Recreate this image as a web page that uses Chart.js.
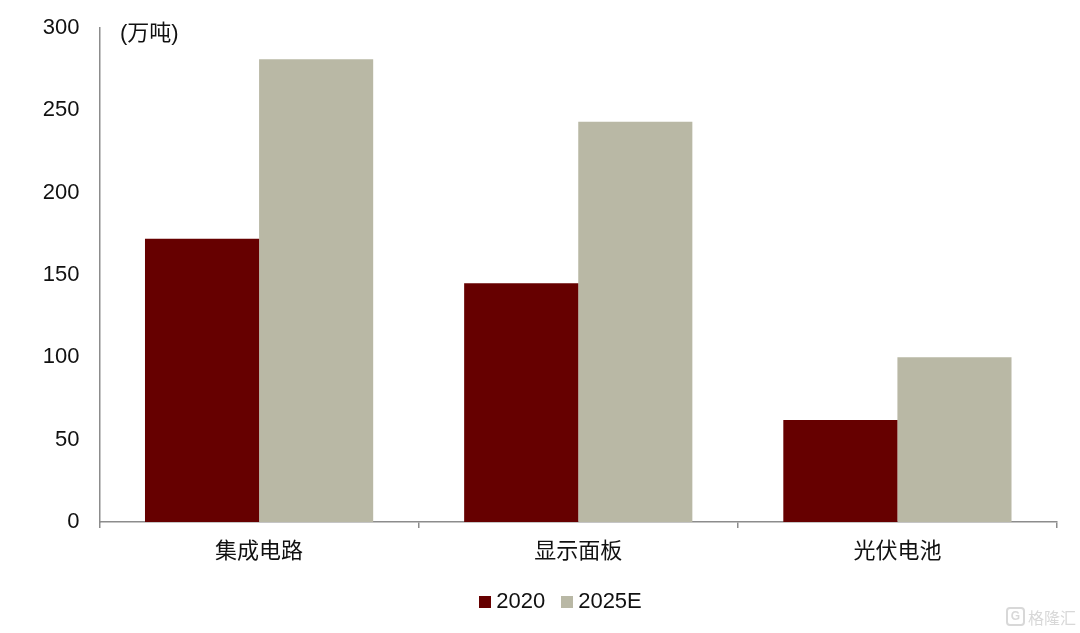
<!DOCTYPE html>
<html>
<head>
<meta charset="utf-8">
<script src="https://cdn.jsdelivr.net/npm/chart.js@4/dist/chart.umd.js"></script>
<style>
  body { margin: 0; background: #fff; }
  #wrap { position: relative; width: 1080px; height: 633px; }
  #mark { position: absolute; left: 1028px; top: 605px; font: 16px "Noto Sans CJK SC"; color: #d8d8d8; white-space: nowrap; }
  #logo { position: absolute; left: 1006px; top: 607px; width: 15px; height: 15px; border: 2px solid #d8d8d8; border-radius: 4px;
          font: bold 12px/15px "Liberation Sans"; color: #d8d8d8; text-align: center; }
</style>
</head>
<body>
<div id="wrap">
  <canvas id="chart" width="1080" height="633"></canvas>
  <div id="logo">G</div>
  <div id="mark">格隆汇</div>
</div>
<script>
// Data
const categories = ['集成电路', '显示面板', '光伏电池'];
const series2020 = [172, 145, 62];
const series2025E = [281, 243, 100];
const yTicks = [0, 50, 100, 150, 200, 250, 300];
const unitLabel = '(万吨)';

const COLOR_2020 = '#660000';
const COLOR_2025 = '#b9b8a5';
const LATIN = '"Liberation Sans", Arial, sans-serif';
const CJK = '"Liberation Sans", "Noto Sans CJK SC", sans-serif';
const AXIS_GREY = '#8c8c8c';

// Small square swatch, so the legend text can sit close to it
function swatch(color) {
    const c = document.createElement('canvas');
    c.width = 12;
    c.height = 12;
    const g = c.getContext('2d');
    g.fillStyle = color;
    g.fillRect(0, 0, 12, 12);
    return c;
}
const swatches = [swatch(COLOR_2020), swatch(COLOR_2025)];

// Unit label sits inside the plot, beside the top of the y axis
const unitPlugin = {
    id: 'unitLabel',
    beforeDraw(chart) {
        // legend is off centre in the original
        chart.legend.left = 69;
    },
    afterDraw(chart) {
        const ctx = chart.ctx;
        ctx.save();
        ctx.font = '22px ' + CJK;
        ctx.fillStyle = '#111';
        ctx.textBaseline = 'middle';
        ctx.fillText(unitLabel, 120, 34);
        ctx.restore();
    }
};

new Chart(document.getElementById('chart').getContext('2d'), {
    type: 'bar',
    data: {
        labels: categories,
        datasets: [
            { label: '2020', data: series2020, backgroundColor: COLOR_2020 },
            { label: '2025E', data: series2025E, backgroundColor: COLOR_2025 }
        ]
    },
    plugins: [unitPlugin],
    options: {
        responsive: false,
        animation: false,
        devicePixelRatio: 1,
        layout: { padding: { left: 0, right: 23, top: 28, bottom: 10 } },
        datasets: { bar: { categoryPercentage: 0.715, barPercentage: 1 } },
        scales: {
            x: {
                afterFit(scale) { scale.height = 48; },
                grid: { drawOnChartArea: false, color: AXIS_GREY, tickLength: 6, lineWidth: 1.5 },
                border: { color: AXIS_GREY, width: 1.5 },
                ticks: { color: '#111', font: { family: CJK, size: 22 }, padding: 11, maxRotation: 0 }
            },
            y: {
                min: 0,
                max: 300,
                afterFit(scale) {
                    scale.width = 99.5;
                    // top edge comes from layout padding only
                    scale.paddingTop = 0;
                    scale.paddingBottom = 0;
                },
                afterBuildTicks(scale) { scale.ticks = yTicks.map(v => ({ value: v })); },
                grid: { display: false },
                border: { color: AXIS_GREY, width: 1.5 },
                ticks: { color: '#111', font: { family: LATIN, size: 22 }, padding: 12 }
            }
        },
        plugins: {
            legend: {
                position: 'bottom',
                labels: {
                    color: '#111',
                    font: { family: LATIN, size: 22 },
                    usePointStyle: true,
                    pointStyleWidth: 1,
                    boxHeight: 12,
                    padding: 21,
                    generateLabels(chart) {
                        const items = Chart.defaults.plugins.legend.labels.generateLabels(chart);
                        items.forEach((item, i) => { item.pointStyle = swatches[i]; });
                        return items;
                    }
                }
            },
            tooltip: { enabled: false }
        }
    }
});
</script>
</body>
</html>
